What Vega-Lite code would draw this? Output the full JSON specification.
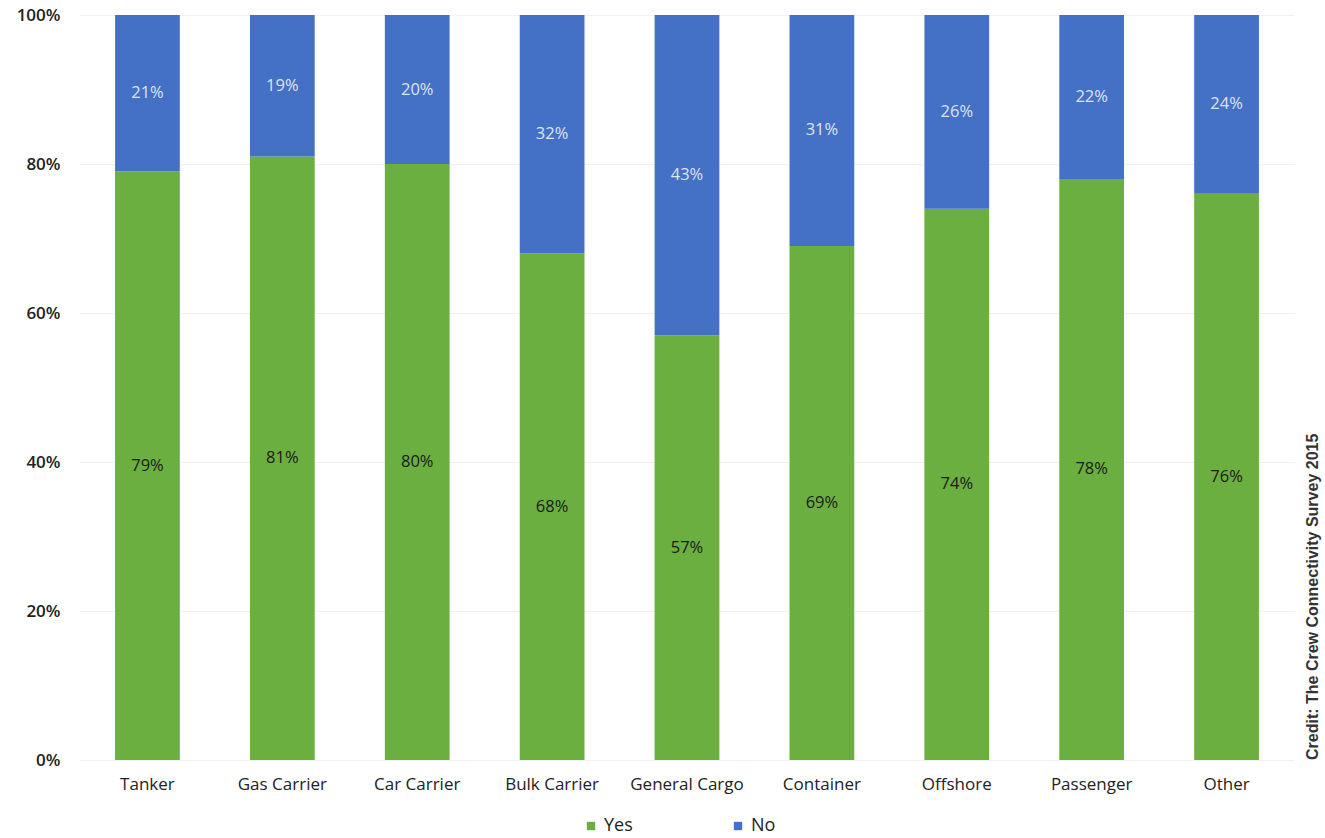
{
  "$schema": "https://vega.github.io/schema/vega-lite/v6.json",
  "width": 1214,
  "height": 745,
  "padding": {"left": 80, "top": 15, "right": 31, "bottom": 78},
  "autosize": {"type": "none"},
  "background": "#ffffff",
  "config": {
    "view": {"stroke": null},
    "font": "Open Sans",
    "axis": {"labelFont": "Open Sans", "labelColor": "#222222", "labelFontSize": 17}
  },
  "title": {
    "text": "Credit: The Crew Connectivity Survey 2015",
    "orient": "right",
    "anchor": "end",
    "frame": "group",
    "align": "left",
    "angle": -90,
    "fontSize": 16,
    "font": "Liberation Sans",
    "fontWeight": "bold",
    "color": "#333333",
    "offset": -5
  },
  "data": {
    "values": [
      {"type": "Tanker", "answer": "Yes", "rank": 1, "value": 79},
      {"type": "Tanker", "answer": "No", "rank": 2, "value": 21},
      {"type": "Gas Carrier", "answer": "Yes", "rank": 1, "value": 81},
      {"type": "Gas Carrier", "answer": "No", "rank": 2, "value": 19},
      {"type": "Car Carrier", "answer": "Yes", "rank": 1, "value": 80},
      {"type": "Car Carrier", "answer": "No", "rank": 2, "value": 20},
      {"type": "Bulk Carrier", "answer": "Yes", "rank": 1, "value": 68},
      {"type": "Bulk Carrier", "answer": "No", "rank": 2, "value": 32},
      {"type": "General Cargo", "answer": "Yes", "rank": 1, "value": 57},
      {"type": "General Cargo", "answer": "No", "rank": 2, "value": 43},
      {"type": "Container", "answer": "Yes", "rank": 1, "value": 69},
      {"type": "Container", "answer": "No", "rank": 2, "value": 31},
      {"type": "Offshore", "answer": "Yes", "rank": 1, "value": 74},
      {"type": "Offshore", "answer": "No", "rank": 2, "value": 26},
      {"type": "Passenger", "answer": "Yes", "rank": 1, "value": 78},
      {"type": "Passenger", "answer": "No", "rank": 2, "value": 22},
      {"type": "Other", "answer": "Yes", "rank": 1, "value": 76},
      {"type": "Other", "answer": "No", "rank": 2, "value": 24}
    ]
  },
  "transform": [
    {"stack": "value", "groupby": ["type"], "sort": [{"field": "rank"}], "as": ["v0", "v1"]},
    {"calculate": "(datum.v0 + datum.v1) / 2", "as": "mid"},
    {"calculate": "datum.value + '%'", "as": "label"}
  ],
  "encoding": {
    "x": {
      "field": "type",
      "type": "nominal",
      "sort": null,
      "scale": {"paddingInner": 0.52, "paddingOuter": 0.26},
      "axis": {"title": null, "labelAngle": 0, "ticks": false, "domain": false, "labelPadding": 16, "labelFontSize": 17, "labelFontWeight": 500}
    }
  },
  "layer": [
    {
      "mark": {"type": "bar"},
      "encoding": {
        "y": {
          "field": "v0",
          "type": "quantitative",
          "scale": {"domain": [0, 100]},
          "axis": {
            "title": null,
            "values": [0, 20, 40, 60, 80, 100],
            "labelExpr": "datum.value + '%'",
            "ticks": false,
            "domain": false,
            "labelPadding": 20,
            "gridColor": "#f1f1f1",
            "labelFontSize": 17,
            "labelFontWeight": 600
          }
        },
        "y2": {"field": "v1"},
        "color": {
          "field": "answer",
          "type": "nominal",
          "scale": {"domain": ["Yes", "No"], "range": ["#6aaf3f", "#4471c6"]},
          "legend": {
            "title": null,
            "orient": "none",
            "legendX": 502,
            "legendY": 802,
            "direction": "horizontal",
            "symbolType": "square",
            "symbolSize": 70,
            "labelFontSize": 18,
            "labelFont": "Open Sans",
            "labelColor": "#222222",
            "columnPadding": 96
          }
        }
      }
    },
    {
      "mark": {"type": "text", "fontSize": 16.5, "font": "Open Sans"},
      "encoding": {
        "y": {"field": "mid", "type": "quantitative"},
        "text": {"field": "label", "type": "nominal"},
        "color": {
          "condition": {"test": "datum.answer == 'Yes'", "value": "#1a1a1a"},
          "value": "#dde4f2"
        }
      }
    }
  ]
}
